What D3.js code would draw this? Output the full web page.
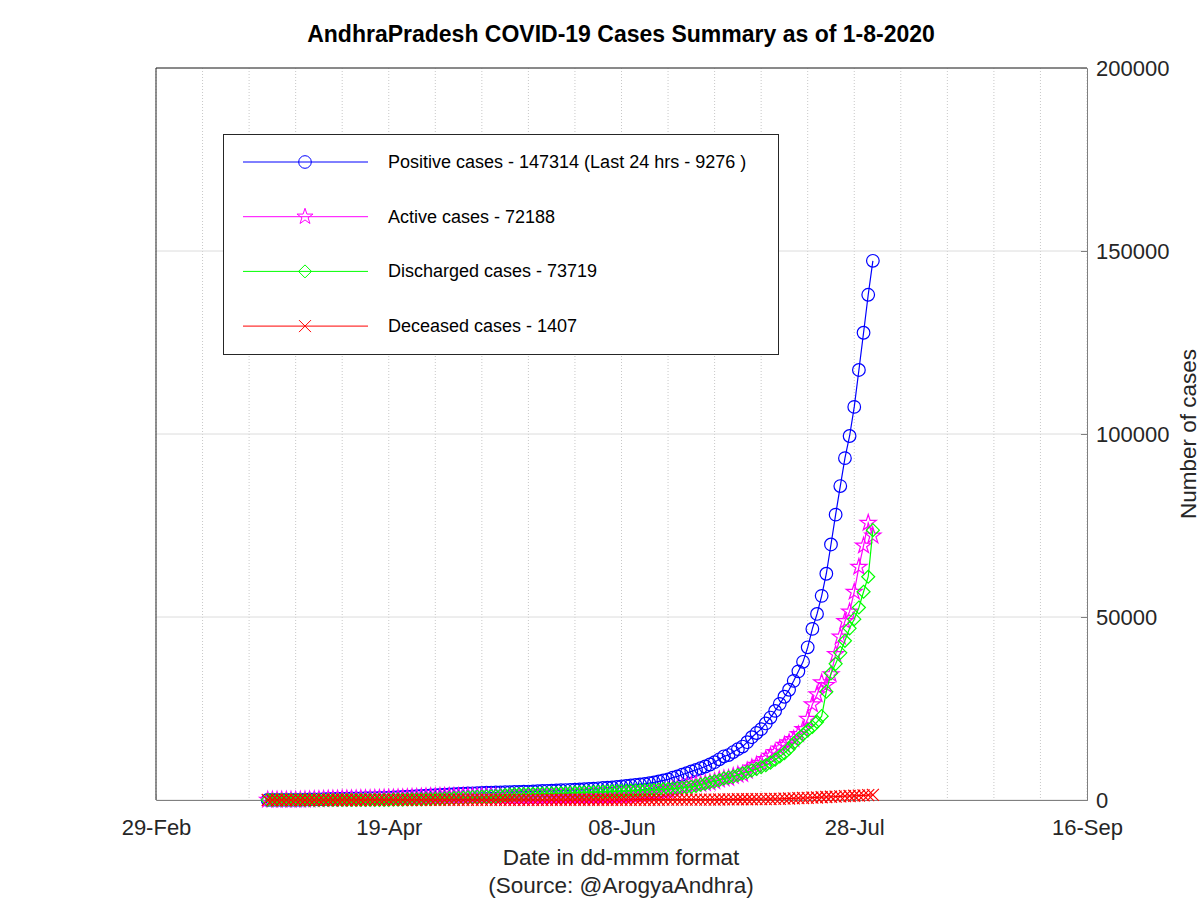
<!DOCTYPE html>
<html>
<head>
<meta charset="utf-8">
<script src="https://cdn.jsdelivr.net/npm/d3@7"></script>
<style>
  body { margin: 0; background: #fff; }
  svg { font-family: "Liberation Sans", Arial, sans-serif; }
</style>
</head>
<body>
<div id="vis"></div>
<script>
const FRAME_WIDTH = 1200;
const FRAME_HEIGHT = 900;
const MARGINS = {left: 156, right: 113, top: 68, bottom: 100};

const VIS_WIDTH = FRAME_WIDTH - MARGINS.left - MARGINS.right;
const VIS_HEIGHT = FRAME_HEIGHT - MARGINS.top - MARGINS.bottom;

// first day of data, one value per day after it
const START_DATE = "2020-03-24";

// x ticks (every 50 days) and labels
const X_TICKS = ["2020-02-29", "2020-04-19", "2020-06-08", "2020-07-28", "2020-09-16"];
const X_TICK_LABELS = ["29-Feb", "19-Apr", "08-Jun", "28-Jul", "16-Sep"];
const Y_TICKS = [0, 50000, 100000, 150000, 200000];

const POSITIVE = [
  8,10,11,14,19,21,23,44,
  87,132,164,190,252,303,314,348,363,381, 405,420,432,473,502,534,572,603,647,722,
  757,813,893,955,1016,1097,1177,1259,1332,1403,
  1463,1525,1583,1650,1717,1777,1833,1887,1930,1980, 2018,2051,2090,2137,2157,2205,2230,2282,2307,2339,
  2407,2452,2514,2561,2627,2671,2719,2787,2841,2874,2944,
  3042,3118,3200,3279,3377,3427,3588,3718,3843,3990, 4126,4261,4403,4588,4813,5087,5367,5646,6102,6456,
  6895,7338,7815,8221,8674,9151,9702,10331,11123,11936,
  12285,13098,13891,14595,15800,17150,18300,19360,20920,22530, 24340,26273,28208,30124,32556,35149,37751,41714,46755,50829,
  55773,61818,69816,77963,85776,93403,99454,107402,117495,127662,138038,
  147314
];

const ACTIVE = [
  8,10,11,13,18,20,22,43,
  85,130,162,188,248,297,304,338,350,365, 388,402,414,445,472,500,532,557,590,610,
  639,669,728,783,814,875,911,970,1020,1051,
  1059,1051,1059,1090,1092,1064,1015,1004,999,1006, 997,949,852,737,653,630,622,643,638,640,
  677,681,721,726,761,765,771,798,791,772,790,
  845,894,925,967,1017,1023,1135,1215,1299,1375, 1450,1544,1625,1758,1953,2156,2335,2562,2918,3120,
  3457,3746,4119,4270,4368,4540,4739,5112,5587,5867,
  6005,6511,6898,7098,7994,8832,9568,10121,11168,12066, 13048,14045,15043,15716,16604,17957,19317,22128,26113,28833,
  32115,31395,34332,39830,44591,48862,51464,56854,63682,69481,75689,
  72188
];

const DISCHARGED = [
  0,0,0,1,1,1,1,1,
  1,1,1,1,1,3,6,6,7,10, 11,11,11,14,16,20,26,31,41,92,
  96,120,141,145,171,191,235,258,281,321,
  371,441,488,524,589,677,780,842,887,929, 975,1056,1192,1353,1456,1527,1560,1590,1620,1650,
  1680,1720,1740,1780,1810,1850,1890,1930,1990,2040,2092,
  2133,2160,2209,2244,2289,2332,2380,2430,2470,2540, 2600,2640,2700,2750,2780,2850,2950,3000,3100,3250,
  3350,3500,3600,3850,4200,4500,4850,5100,5400,5900,
  6100,6400,6800,7300,7600,8100,8500,9000,9500,10200, 11000,11900,12800,14000,15500,16700,17900,19000,20000,21300,
  22900,29600,34600,37200,40200,43500,46900,49400,52600,56900,61000,
  73719
];

const DECEASED = [
  0,0,0,0,0,0,0,0,
  1,1,1,1,3,3,4,4,6,6, 6,7,7,14,14,14,14,15,16,20,
  22,24,24,27,31,31,31,31,31,31,
  33,33,36,36,36,36,38,41,44,45, 46,46,46,47,48,48,48,49,49,49,
  50,51,53,55,56,56,58,59,60,62,62,
  64,64,66,68,71,72,73,73,74,75, 76,77,78,80,80,81,82,84,84,86,
  88,92,96,101,106,111,113,119,136,169,
  180,187,193,197,206,218,232,239,252,264, 292,328,365,408,452,492,534,586,642,696,
  758,823,884,933,985,1041,1090,1148,1213,1281,1349,
  1407
];

const LEGEND_LABELS = [
  "Positive cases - 147314 (Last 24 hrs - 9276 )",
  "Active cases - 72188",
  "Discharged cases - 73719",
  "Deceased cases - 1407"
];

const parse = d3.utcParse("%Y-%m-%d");
const start = parse(START_DATE);
const dates = POSITIVE.map((v, i) => d3.utcDay.offset(start, i));

const SERIES = [
  {values: POSITIVE, color: "#0000ff", marker: "circle"},
  {values: ACTIVE, color: "#ff00ff", marker: "star"},
  {values: DISCHARGED, color: "#00ff00", marker: "diamond"},
  {values: DECEASED, color: "#ff0000", marker: "cross"}
];

const X_SCALE = d3.scaleUtc()
  .domain([parse(X_TICKS[0]), parse(X_TICKS[X_TICKS.length - 1])])
  .range([0, VIS_WIDTH]);

const Y_SCALE = d3.scaleLinear()
  .domain([0, 200000])
  .range([VIS_HEIGHT, 0]);

const SVG = d3.select("#vis")
  .append("svg")
    .attr("width", FRAME_WIDTH)
    .attr("height", FRAME_HEIGHT);

const PLOT = SVG.append("g")
  .attr("transform", "translate(" + MARGINS.left + "," + MARGINS.top + ")");

// minor vertical grid every 10 days (dotted)
const minorTicks = d3.utcDay.range(parse(X_TICKS[0]), d3.utcDay.offset(parse(X_TICKS[4]), 1))
  .filter((d, i) => i % 10 === 0);
PLOT.selectAll(".vgrid")
  .data(minorTicks)
  .enter()
  .append("line")
    .attr("x1", d => X_SCALE(d))
    .attr("x2", d => X_SCALE(d))
    .attr("y1", 0)
    .attr("y2", VIS_HEIGHT)
    .attr("stroke", "#c8c8c8")
    .attr("stroke-width", 1)
    .attr("stroke-dasharray", "1,2");

// horizontal grid
PLOT.selectAll(".hgrid")
  .data(Y_TICKS)
  .enter()
  .append("line")
    .attr("x1", 0)
    .attr("x2", VIS_WIDTH)
    .attr("y1", d => Y_SCALE(d))
    .attr("y2", d => Y_SCALE(d))
    .attr("stroke", "#dcdcdc")
    .attr("stroke-width", 1);

// frame
PLOT.append("line").attr("x1", 0).attr("x2", VIS_WIDTH).attr("y1", 0).attr("y2", 0)
  .attr("stroke", "#262626");
PLOT.append("line").attr("x1", 0).attr("x2", 0).attr("y1", 0).attr("y2", VIS_HEIGHT)
  .attr("stroke", "#262626");

// x axis (bottom)
const xAxis = PLOT.append("g")
  .attr("transform", "translate(0," + VIS_HEIGHT + ")")
  .call(d3.axisBottom(X_SCALE)
    .tickValues(X_TICKS.map(parse))
    .tickFormat((d, i) => X_TICK_LABELS[i])
    .tickSize(-6)
    .tickPadding(19));
xAxis.select(".domain").attr("stroke", "#808080");
xAxis.selectAll(".tick line").attr("stroke", "#808080");
xAxis.selectAll("text")
  .attr("font-size", "22px")
  .attr("font-family", "Liberation Sans, Arial, sans-serif")
  .attr("fill", "#262626");

// y axis (right)
const yAxis = PLOT.append("g")
  .attr("transform", "translate(" + VIS_WIDTH + ",0)")
  .call(d3.axisRight(Y_SCALE)
    .tickValues(Y_TICKS)
    .tickFormat(d3.format("d"))
    .tickSize(-6)
    .tickPadding(9));
yAxis.select(".domain").attr("stroke", "#808080");
yAxis.selectAll(".tick line").attr("stroke", "#808080");
yAxis.selectAll("text")
  .attr("font-size", "22px")
  .attr("font-family", "Liberation Sans, Arial, sans-serif")
  .attr("fill", "#262626");

// marker shapes
function markerPath(type) {
  if (type === "circle") return d3.symbol(d3.symbolCircle, 125)();
  if (type === "star") return d3.symbol(d3.symbolStar, 80)();
  if (type === "diamond") return "M0,-6.5L6.5,0L0,6.5L-6.5,0Z";
  return "M-6,-6L6,6M-6,6L6,-6";
}

const line = d3.line()
  .x(d => X_SCALE(d.date))
  .y(d => Y_SCALE(d.value));

SERIES.forEach(s => {
  const pts = s.values.map((v, i) => ({date: dates[i], value: v}));
  PLOT.append("path")
    .datum(pts)
    .attr("fill", "none")
    .attr("stroke", s.color)
    .attr("stroke-width", 1.2)
    .attr("d", line);
  PLOT.selectAll(".m-" + s.marker)
    .data(pts)
    .enter()
    .append("path")
      .attr("class", "m-" + s.marker)
      .attr("transform", d => "translate(" + X_SCALE(d.date) + "," + Y_SCALE(d.value) + ")")
      .attr("d", markerPath(s.marker))
      .attr("fill", "none")
      .attr("stroke", s.color)
      .attr("stroke-width", 1.2);
});

// legend
const LEGEND = SVG.append("g");
LEGEND.append("rect")
  .attr("x", 223.5)
  .attr("y", 134.5)
  .attr("width", 555)
  .attr("height", 220)
  .attr("fill", "#fff")
  .attr("stroke", "#262626")
  .attr("stroke-width", 1);

SERIES.forEach((s, i) => {
  const y = 162 + i * 54.7;
  LEGEND.append("line")
    .attr("x1", 243).attr("x2", 368)
    .attr("y1", y).attr("y2", y)
    .attr("stroke", s.color);
  LEGEND.append("path")
    .attr("transform", "translate(305," + y + ")")
    .attr("d", markerPath(s.marker))
    .attr("fill", "none")
    .attr("stroke", s.color);
  LEGEND.append("text")
    .attr("x", 388)
    .attr("y", y + 6)
    .attr("font-size", "18px")
    .attr("fill", "#000")
    .text(LEGEND_LABELS[i]);
});

// title
SVG.append("text")
  .attr("x", 621)
  .attr("y", 42)
  .attr("text-anchor", "middle")
  .attr("font-size", "23px")
  .attr("font-weight", "bold")
  .attr("fill", "#000")
  .text("AndhraPradesh COVID-19 Cases Summary as of 1-8-2020");

// x label
SVG.append("text")
  .attr("x", 621)
  .attr("y", 865)
  .attr("text-anchor", "middle")
  .attr("font-size", "22.5px")
  .attr("fill", "#262626")
  .text("Date in dd-mmm format");
SVG.append("text")
  .attr("x", 621)
  .attr("y", 893)
  .attr("text-anchor", "middle")
  .attr("font-size", "22.5px")
  .attr("fill", "#262626")
  .text("(Source: @ArogyaAndhra)");

// y label
SVG.append("text")
  .attr("transform", "translate(1196,434) rotate(-90)")
  .attr("text-anchor", "middle")
  .attr("font-size", "22.5px")
  .attr("fill", "#262626")
  .text("Number of cases");
</script>
</body>
</html>
